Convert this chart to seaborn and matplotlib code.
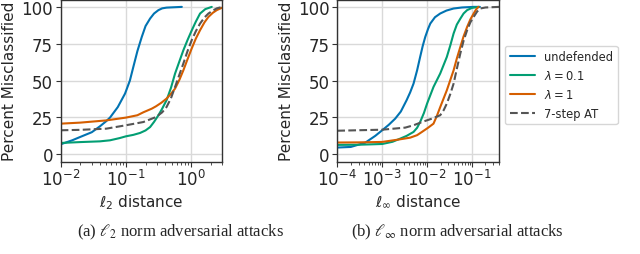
import numpy as np
import pandas as pd
import matplotlib
matplotlib.use("Agg")
import matplotlib.pyplot as plt
import seaborn as sns

# ---- data: l2 attacks (left panel) ----
l2_undef_x = [0.01, 0.015, 0.02, 0.03, 0.04, 0.05, 0.057, 0.075, 0.097, 0.115, 0.13, 0.15, 0.175, 0.2, 0.235, 0.27, 0.315, 0.36, 0.42, 0.72]
l2_undef_y = [6.8, 9.5, 11.8, 15.0, 19.0, 22.5, 24.9, 32.0, 41.2, 50.0, 59.3, 70.0, 79.6, 87.0, 92.1, 95.5, 97.8, 99.0, 99.5, 100]
l2_lam01_x = [0.01, 0.02, 0.04, 0.057, 0.08, 0.1, 0.13, 0.165, 0.2, 0.235, 0.27, 0.315, 0.36, 0.42, 0.49, 0.567, 0.66, 0.76, 0.88, 1.02, 1.18, 1.37, 1.65, 2.07]
l2_lam01_y = [7.7, 8.3, 8.8, 9.5, 11.0, 12.2, 13.2, 14.5, 16.2, 18.5, 22.0, 26.5, 31.0, 36.7, 45.0, 54.8, 63.0, 70.6, 77.5, 84.0, 90.0, 95.5, 98.5, 100]
l2_lam1_x = [0.01, 0.02, 0.05, 0.1, 0.15, 0.185, 0.25, 0.29, 0.35, 0.42, 0.49, 0.567, 0.66, 0.76, 0.88, 1.02, 1.18, 1.37, 1.6, 1.84, 2.15, 2.47, 3.0]
l2_lam1_y = [20.8, 21.5, 23.0, 24.9, 26.5, 28.5, 31.0, 32.6, 35.0, 37.8, 41.0, 44.6, 50.5, 57.0, 64.5, 71.8, 78.5, 84.2, 89.5, 93.2, 96.0, 97.8, 99.5]
l2_at_x = [0.01, 0.02, 0.05, 0.1, 0.185, 0.29, 0.36, 0.42, 0.49, 0.567, 0.66, 0.76, 0.88, 1.02, 1.18, 1.37, 1.6, 1.84, 2.15, 2.47, 3.0]
l2_at_y = [16.3, 16.6, 17.4, 19.7, 21.9, 25.3, 28.5, 32.1, 38.0, 45.7, 54.0, 61.6, 70.0, 77.4, 83.5, 88.7, 92.8, 95.5, 97.5, 99.0, 100]

# ---- data: linf attacks (right panel) ----
li_undef_x = [1e-4, 2e-4, 4.2e-4, 7e-4, 1e-3, 1.4e-3, 1.95e-3, 2.6e-3, 3.5e-3, 4.2e-3, 5e-3, 6e-3, 7e-3, 8e-3, 9.1e-3, 0.0105, 0.0118, 0.015, 0.0196, 0.027, 0.039, 0.06, 0.109, 0.15]
li_undef_y = [4.6, 5.0, 7.9, 12.5, 16.3, 20.0, 24.2, 29.0, 36.7, 42.0, 48.0, 57.0, 66.0, 73.5, 79.6, 85.0, 88.7, 93.0, 95.5, 97.5, 98.9, 99.6, 100, 100]
li_lam01_x = [1e-4, 3e-4, 1e-3, 1.7e-3, 2.5e-3, 3.5e-3, 5e-3, 6e-3, 7e-3, 8.5e-3, 0.01, 0.0139, 0.0196, 0.0275, 0.033, 0.039, 0.046, 0.055, 0.065, 0.078, 0.1, 0.14]
li_lam01_y = [6.4, 6.5, 7.0, 8.5, 10.6, 12.5, 15.2, 18.0, 21.9, 28.0, 34.4, 45.7, 54.8, 66.0, 74.0, 82.0, 88.0, 92.0, 95.5, 97.8, 99.3, 100]
li_lam1_x = [1e-4, 3e-4, 1e-3, 2.3e-3, 4.2e-3, 6e-3, 7.7e-3, 0.0105, 0.0139, 0.0165, 0.0196, 0.0275, 0.039, 0.046, 0.055, 0.065, 0.078, 0.092, 0.109, 0.125, 0.14]
li_lam1_y = [8.0, 8.1, 8.4, 10.0, 11.3, 13.0, 15.2, 18.0, 20.8, 26.0, 32.0, 43.4, 57.0, 65.0, 72.8, 80.0, 86.4, 91.5, 95.5, 98.5, 100]
li_at_x = [1e-4, 1e-3, 3.25e-3, 5e-3, 7.7e-3, 0.0128, 0.0196, 0.0235, 0.0275, 0.033, 0.039, 0.046, 0.055, 0.065, 0.078, 0.092, 0.109, 0.13, 0.153, 0.2, 0.4]
li_at_y = [16.0, 16.7, 18.1, 19.7, 21.9, 24.2, 26.5, 30.0, 34.4, 41.0, 48.0, 58.0, 68.4, 77.0, 84.2, 89.5, 93.2, 96.8, 98.9, 99.6, 100]

labels = ["undefended", r"$\lambda = 0.1$", r"$\lambda = 1$", "7-step AT"]
colors = ["#0173b2", "#029e73", "#d55e00", "#555555"]
styles = ["-", "-", "-", "--"]

sns.set_style("ticks")
plt.rcParams["font.family"] = ["DejaVu Sans"]

fig = plt.figure(figsize=(6.4, 2.55), dpi=100)
ax1 = fig.add_axes([0.0948, 0.362, 0.2525, 0.636])
ax2 = fig.add_axes([0.527, 0.362, 0.2527, 0.636])

panels = [
    (ax1, [(l2_undef_x, l2_undef_y), (l2_lam01_x, l2_lam01_y), (l2_lam1_x, l2_lam1_y), (l2_at_x, l2_at_y)],
     (0.01, 3.0), r"$\ell_2$ distance"),
    (ax2, [(li_undef_x, li_undef_y), (li_lam01_x, li_lam01_y), (li_lam1_x, li_lam1_y), (li_at_x, li_at_y)],
     (1e-4, 0.4), r"$\ell_\infty$ distance"),
]

for ax, series, xlim, xlabel in panels:
    for (xs, ys), lab, c, ls in zip(series, labels, colors, styles):
        df = pd.DataFrame({"x": xs, "y": ys})
        sns.lineplot(data=df, x="x", y="y", ax=ax, color=c, linestyle=ls,
                     linewidth=1.5, label=lab, legend=False)
    ax.set_xscale("log")
    ax.set_xlim(*xlim)
    ax.set_ylim(-5, 105)
    ax.set_yticks([0, 25, 50, 75, 100])
    ax.grid(True, which="major", color="#d9d9d9", linewidth=1.0)
    ax.set_axisbelow(True)
    ax.set_xlabel(xlabel, fontsize=11, labelpad=2)
    ax.set_ylabel("Percent Misclassified", fontsize=11, labelpad=3)
    ax.tick_params(axis="both", which="major", labelsize=12, length=3.5, pad=2, color="#333333")
    ax.tick_params(axis="x", which="minor", length=2, color="#333333")
    for sp in ax.spines.values():
        sp.set_visible(True)
        sp.set_color("#333333")
        sp.set_linewidth(1.0)

handles, labs = ax1.get_legend_handles_labels()
leg = fig.legend(handles, labs, loc="upper left", bbox_to_anchor=(0.789, 0.817),
                 borderaxespad=0, fontsize=8.3, frameon=True, handlelength=2.2)
leg.get_frame().set_edgecolor("#cccccc")

fig.text(0.282, 0.09, r"(a) $\ell_2$ norm adversarial attacks", ha="center", va="center",
         family="Liberation Serif", fontsize=12, math_fontfamily="stix")
fig.text(0.714, 0.09, r"(b) $\ell_\infty$ norm adversarial attacks", ha="center", va="center",
         family="Liberation Serif", fontsize=12, math_fontfamily="stix")

fig.savefig("out.png", dpi=100)
